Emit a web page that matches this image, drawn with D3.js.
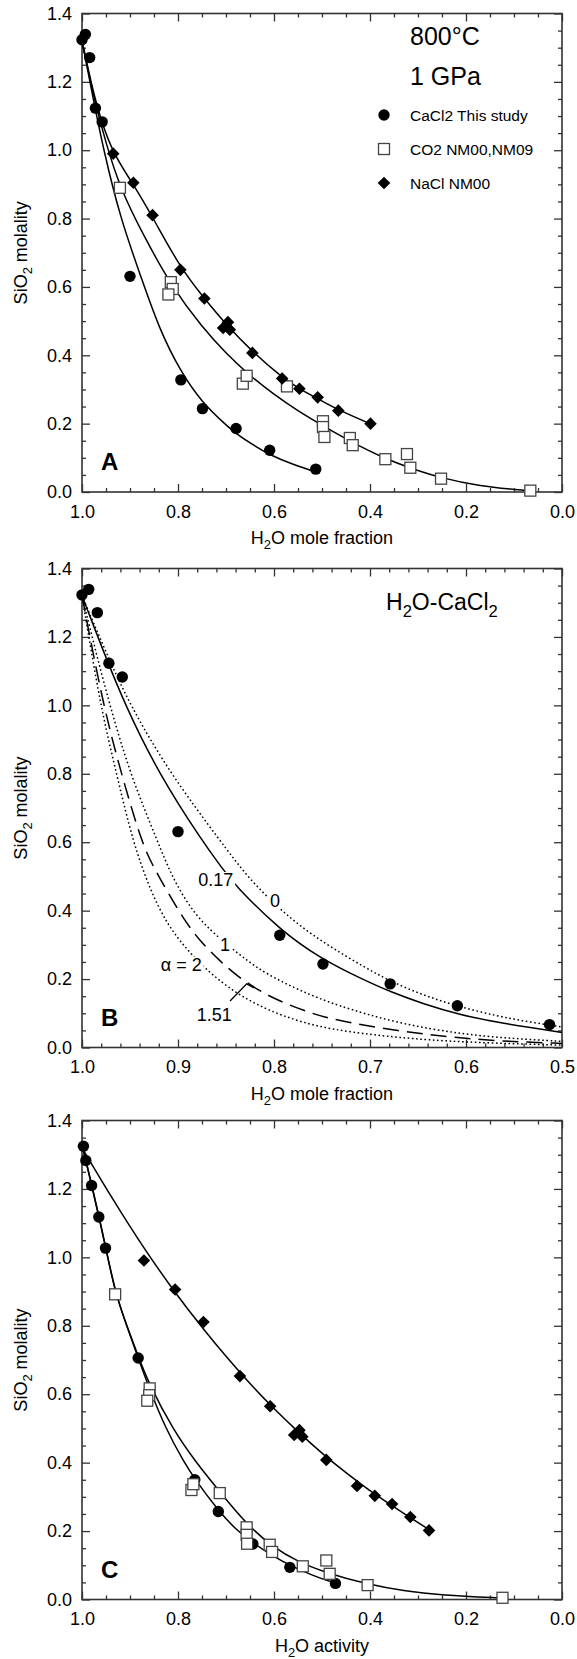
<!DOCTYPE html>
<html>
<head>
<meta charset="utf-8">
<script src="https://cdn.jsdelivr.net/npm/d3@7/dist/d3.min.js"></script>
<style>
  html, body { margin: 0; padding: 0; background: #fff; }
  svg { display: block; }
</style>
</head>
<body>
<svg id="chart" width="577" height="1659" xmlns="http://www.w3.org/2000/svg"></svg>
<script>
// ================= DATA =================
// CaCl2, this study : H2O mole fraction vs SiO2 molality (panels A, B)
const cacl2X = [1.000, 0.993, 0.984, 0.972, 0.958, 0.900, 0.794, 0.749, 0.679, 0.609, 0.513];
const cacl2Y = [1.323, 1.339, 1.271, 1.123, 1.083, 0.631, 0.328, 0.244, 0.186, 0.122, 0.067];
// CO2, NM00 / NM09 (panel A)
const co2X = [0.921, 0.815, 0.811, 0.820, 0.665, 0.657, 0.573, 0.498, 0.498, 0.495, 0.442, 0.436, 0.368, 0.323, 0.316, 0.252, 0.066];
const co2Y = [0.890, 0.614, 0.594, 0.578, 0.317, 0.340, 0.309, 0.207, 0.190, 0.161, 0.158, 0.137, 0.096, 0.111, 0.071, 0.039, 0.004];
// NaCl, NM00 (panel A)
const naclX = [0.935, 0.893, 0.853, 0.795, 0.745, 0.696, 0.706, 0.692, 0.645, 0.583, 0.547, 0.509, 0.466, 0.399];
const naclY = [0.990, 0.905, 0.810, 0.650, 0.566, 0.497, 0.480, 0.475, 0.407, 0.332, 0.302, 0.277, 0.238, 0.200];
// Panel C : H2O activity vs SiO2 molality
const cacl2ActX = [0.997, 0.992, 0.980, 0.965, 0.951, 0.883, 0.765, 0.716, 0.644, 0.567, 0.472];
const cacl2ActY = [1.325, 1.283, 1.210, 1.118, 1.027, 0.706, 0.350, 0.257, 0.162, 0.094, 0.047];
const co2ActX = [0.931, 0.859, 0.860, 0.864, 0.772, 0.768, 0.713, 0.657, 0.657, 0.656, 0.609, 0.604, 0.540, 0.491, 0.484, 0.405, 0.124];
const co2ActY = [0.892, 0.617, 0.597, 0.581, 0.320, 0.337, 0.311, 0.211, 0.189, 0.163, 0.160, 0.139, 0.097, 0.114, 0.075, 0.042, 0.005];
const naclActX = [0.871, 0.806, 0.747, 0.671, 0.608, 0.547, 0.558, 0.541, 0.491, 0.427, 0.390, 0.354, 0.316, 0.277];
const naclActY = [0.991, 0.906, 0.811, 0.653, 0.565, 0.495, 0.481, 0.476, 0.408, 0.332, 0.303, 0.279, 0.241, 0.202];

// Fitted / model curves ([x, SiO2 molality])
const fitCaCl2A = [[1.0,1.32],[0.978,1.16],[0.955,1.0],[0.92,0.8],[0.876,0.625],[0.84,0.48],[0.794,0.35],[0.75,0.262],[0.7,0.196],[0.68,0.172],[0.644,0.138],[0.608,0.108],[0.56,0.08],[0.512,0.058]];
const fitCO2A = [[1.0,1.32],[0.975,1.15],[0.95,1.02],[0.921,0.89],[0.87,0.745],[0.81,0.594],[0.75,0.483],[0.7,0.405],[0.65,0.34],[0.6,0.285],[0.55,0.237],[0.5,0.195],[0.44,0.147],[0.368,0.097],[0.316,0.07],[0.252,0.041],[0.176,0.018],[0.066,0.003]];
const fitNaClA = [[1.0,1.32],[0.98,1.19],[0.96,1.085],[0.935,0.99],[0.893,0.9],[0.853,0.805],[0.795,0.655],[0.745,0.566],[0.7,0.49],[0.645,0.41],[0.583,0.335],[0.547,0.302],[0.509,0.273],[0.466,0.24],[0.4,0.2]];
// Panel B model curves, alpha = 0, 0.17, 1, 1.51, 2
const curveA0 = [[1.0,1.32],[0.975,1.155],[0.95,1.0],[0.908,0.8],[0.855,0.6],[0.828,0.5],[0.8,0.42],[0.773,0.355],[0.742,0.295],[0.707,0.237],[0.68,0.195],[0.644,0.152],[0.608,0.12],[0.568,0.092],[0.535,0.075],[0.5,0.06]];
const curveA017 = [[1.0,1.32],[0.978,1.16],[0.955,1.0],[0.92,0.8],[0.874,0.6],[0.854,0.524],[0.841,0.475],[0.794,0.344],[0.752,0.261],[0.707,0.198],[0.679,0.163],[0.644,0.127],[0.608,0.097],[0.568,0.073],[0.5,0.044]];
const curveA1 = [[1.0,1.32],[0.985,1.15],[0.971,1.0],[0.95,0.8],[0.921,0.6],[0.905,0.49],[0.881,0.38],[0.851,0.305],[0.828,0.254],[0.808,0.215],[0.773,0.166],[0.736,0.124],[0.672,0.071],[0.603,0.038],[0.55,0.026],[0.5,0.018]];
const curveA151 = [[1.0,1.32],[0.978,1.0],[0.959,0.8],[0.938,0.6],[0.926,0.53],[0.91,0.45],[0.894,0.375],[0.877,0.31],[0.856,0.252],[0.839,0.21],[0.815,0.165],[0.794,0.135],[0.766,0.105],[0.742,0.083],[0.672,0.048],[0.603,0.026],[0.55,0.017],[0.5,0.012]];
const curveA2 = [[1.0,1.32],[0.981,1.0],[0.964,0.8],[0.947,0.6],[0.929,0.461],[0.912,0.363],[0.891,0.286],[0.867,0.218],[0.842,0.164],[0.818,0.125],[0.79,0.091],[0.756,0.062],[0.72,0.045],[0.672,0.029],[0.603,0.015],[0.5,0.007]];
// Panel C fits
const fitCaCl2C = [[1.0,1.33],[0.992,1.283],[0.98,1.21],[0.965,1.12],[0.951,1.03],[0.931,0.9],[0.907,0.8],[0.883,0.706],[0.862,0.625],[0.826,0.5],[0.787,0.4],[0.765,0.352],[0.716,0.26],[0.68,0.205],[0.644,0.165],[0.6,0.125],[0.567,0.1],[0.52,0.07],[0.472,0.048]];
const fitCO2C = [[1.0,1.33],[0.98,1.215],[0.951,1.035],[0.931,0.895],[0.907,0.802],[0.883,0.712],[0.862,0.635],[0.81,0.495],[0.761,0.398],[0.713,0.315],[0.657,0.22],[0.604,0.155],[0.55,0.11],[0.491,0.078],[0.405,0.044],[0.33,0.025],[0.252,0.013],[0.124,0.004]];
const fitNaClC = [[1.0,1.32],[0.935,1.167],[0.872,1.028],[0.806,0.896],[0.747,0.79],[0.7,0.71],[0.65,0.63],[0.6,0.557],[0.55,0.49],[0.5,0.427],[0.45,0.37],[0.4,0.317],[0.35,0.27],[0.277,0.204]];

// Tick values / labels
const xTicksFull = [1.0, 0.8, 0.6, 0.4, 0.2, 0.0];
const xTicksB = [1.0, 0.9, 0.8, 0.7, 0.6, 0.5];
const yTicks = [0, 0.2, 0.4, 0.6, 0.8, 1.0, 1.2, 1.4];
const legendLabels = ["CaCl2 This study", "CO2 NM00,NM09", "NaCl NM00"];
const alphaLabels = ["0", "0.17", "1", "\u03B1 = 2", "1.51"];
const alphaLabelPos = [[0.799, 0.4115], [0.8425, 0.472], [0.851, 0.282], [0.8753, 0.2245], [0.8805, 0.078]];
const leader151 = [[0.8458, 0.136], [0.8284, 0.186], [0.8208, 0.174]];

// ================= DRAWING =================
const FONT = '"Liberation Sans", Arial, Helvetica, sans-serif';
const L = 82, R = 562;
const AX = '#333';
const svg = d3.select('#chart').attr('font-family', FONT);

function richText(t, parts, size) {
  let shift = 0;
  parts.forEach(([s, sub]) => {
    const ts = t.append('tspan').text(s);
    if (sub) { ts.attr('font-size', size * 0.72).attr('dy', size * 0.3 - shift); shift = size * 0.3; }
    else { if (shift) ts.attr('dy', -shift); shift = 0; }
  });
}

function minorTicks(lo, hi, step, every) {
  const n = Math.round((hi - lo) / step);
  const out = [];
  for (let i = 0; i <= n; i++) if (i % every !== 0) out.push(+(lo + i * step).toFixed(4));
  return out;
}

function setupPanel(o) {
  const g = svg.append('g');
  const x = d3.scaleLinear().domain(o.xDomain).range([L, R]);
  const y = d3.scaleLinear().domain([0, 1.4]).range([o.bottom, o.top]);
  const yMinor = minorTicks(0, 1.4, 0.05, 4);
  const fmt = d3.format('.1f');
  const axes = [
    [d3.axisBottom(x).tickValues(o.xMajor).tickSize(-8).tickPadding(13).tickFormat(fmt), `translate(0,${o.bottom})`],
    [d3.axisBottom(x).tickValues(o.xMinor).tickSize(-4).tickFormat(''), `translate(0,${o.bottom})`],
    [d3.axisTop(x).tickValues(o.xMajor).tickSize(-8).tickFormat(''), `translate(0,${o.top})`],
    [d3.axisTop(x).tickValues(o.xMinor).tickSize(-4).tickFormat(''), `translate(0,${o.top})`],
    [d3.axisLeft(y).tickValues(yTicks).tickSize(-8).tickPadding(10).tickFormat(fmt), `translate(${L},0)`],
    [d3.axisLeft(y).tickValues(yMinor).tickSize(-4).tickFormat(''), `translate(${L},0)`],
    [d3.axisRight(y).tickValues(yTicks).tickSize(-8).tickFormat(''), `translate(${R},0)`],
    [d3.axisRight(y).tickValues(yMinor).tickSize(-4).tickFormat(''), `translate(${R},0)`]
  ];
  axes.forEach(([ax, tr]) => {
    const a = g.append('g').attr('transform', tr).call(ax);
    a.select('.domain').remove();
    a.selectAll('line').attr('stroke', AX).attr('stroke-width', 1.3);
    a.selectAll('text').attr('font-family', FONT).attr('font-size', 18).attr('fill', '#000');
  });
  g.append('rect').attr('x', L).attr('y', o.top).attr('width', R - L).attr('height', o.bottom - o.top)
    .attr('fill', 'none').attr('stroke', AX).attr('stroke-width', 1.6);
  // x title
  const xt = g.append('text').attr('x', (L + R) / 2).attr('y', o.bottom + 52)
    .attr('text-anchor', 'middle').attr('font-size', 18);
  richText(xt, o.xTitle, 18);
  // y title
  const yt = g.append('text').attr('transform', `translate(27,${(o.top + o.bottom) / 2}) rotate(-90)`)
    .attr('text-anchor', 'middle').attr('font-size', 18);
  richText(yt, [['SiO', false], ['2', true], [' molality', false]], 18);
  // panel letter
  g.append('text').attr('x', 101).attr('y', o.bottom - 22).attr('font-size', 24)
    .attr('font-weight', 'bold').text(o.letter);
  const plot = g.append('g');
  return { g, plot, x, y };
}

function drawLine(p, pts, dash, width) {
  const line = d3.line().x(d => p.x(d[0])).y(d => p.y(d[1])).curve(d3.curveBasis);
  p.plot.append('path').attr('d', line(pts)).attr('fill', 'none').attr('stroke', '#000')
    .attr('stroke-width', width || 1.5).attr('stroke-dasharray', dash || null);
}
function diamondPath(s) { return `M0,${-s}L${s},0L0,${s}L${-s},0Z`; }
function drawCircles(p, xs, ys) {
  p.plot.append('g').selectAll('circle').data(d3.zip(xs, ys)).join('circle')
    .attr('cx', d => p.x(d[0])).attr('cy', d => p.y(d[1])).attr('r', 5.7).attr('fill', '#000');
}
function drawSquares(p, xs, ys) {
  p.plot.append('g').selectAll('rect').data(d3.zip(xs, ys)).join('rect')
    .attr('x', d => p.x(d[0]) - 5.5).attr('y', d => p.y(d[1]) - 5.5).attr('width', 11).attr('height', 11)
    .attr('fill', '#fff').attr('stroke', '#444').attr('stroke-width', 1.3);
}
function drawDiamonds(p, xs, ys) {
  p.plot.append('g').selectAll('path').data(d3.zip(xs, ys)).join('path')
    .attr('transform', d => `translate(${p.x(d[0])},${p.y(d[1])})`).attr('d', diamondPath(6.3)).attr('fill', '#000');
}

const H2Ofrac = [['H', false], ['2', true], ['O mole fraction', false]];

// ---------- Panel A ----------
const pA = setupPanel({ top: 13.5, bottom: 492, xDomain: [1, 0], xMajor: xTicksFull,
  xMinor: minorTicks(0, 1, 0.05, 4), xTitle: H2Ofrac, letter: 'A' });
drawLine(pA, fitCaCl2A); drawLine(pA, fitCO2A); drawLine(pA, fitNaClA);
drawCircles(pA, cacl2X, cacl2Y);
drawSquares(pA, co2X, co2Y);
drawDiamonds(pA, naclX, naclY);
pA.g.append('text').attr('x', 410).attr('y', 45).attr('font-size', 25).text('800\u00B0C');
pA.g.append('text').attr('x', 410).attr('y', 85).attr('font-size', 25).text('1 GPa');
const legY = [115, 149, 183];
pA.g.append('circle').attr('cx', 384).attr('cy', legY[0]).attr('r', 5.7).attr('fill', '#000');
pA.g.append('rect').attr('x', 384 - 5.5).attr('y', legY[1] - 5.5).attr('width', 11).attr('height', 11)
  .attr('fill', '#fff').attr('stroke', '#444').attr('stroke-width', 1.3);
pA.g.append('path').attr('transform', `translate(384,${legY[2]})`).attr('d', diamondPath(6.3)).attr('fill', '#000');
legendLabels.forEach((t, i) => {
  pA.g.append('text').attr('x', 410).attr('y', legY[i] + 5.5).attr('font-size', 15.5).text(t);
});

// ---------- Panel B ----------
const pB = setupPanel({ top: 568.5, bottom: 1047.5, xDomain: [1, 0.5], xMajor: xTicksB,
  xMinor: minorTicks(0.5, 1, 0.02, 5), xTitle: H2Ofrac, letter: 'B' });
drawLine(pB, curveA0, '1.6,2.6', 1.5);
drawLine(pB, curveA017, null, 1.5);
drawLine(pB, curveA1, '1.6,2.6', 1.5);
drawLine(pB, curveA151, '16,8', 1.5);
drawLine(pB, curveA2, '1.6,2.6', 1.5);
// leader line for 1.51
pB.plot.append('path').attr('d', d3.line().x(d => pB.x(d[0])).y(d => pB.y(d[1]))(leader151))
  .attr('fill', 'none').attr('stroke', '#000').attr('stroke-width', 1.3);
// alpha labels with white knock-out
const anchors = ['middle', 'end', 'middle', 'end', 'start'];
alphaLabels.forEach((t, i) => {
  const gl = pB.plot.append('g');
  const tx = gl.append('text').attr('x', pB.x(alphaLabelPos[i][0])).attr('y', pB.y(alphaLabelPos[i][1]))
    .attr('text-anchor', anchors[i]).attr('font-size', 18).text(t);
  const bb = tx.node().getBBox();
  gl.insert('rect', 'text').attr('x', bb.x - 2).attr('y', bb.y + 2).attr('width', bb.width + 4)
    .attr('height', bb.height - 4).attr('fill', '#fff');
});
drawCircles(pB, cacl2X, cacl2Y);
const ht = pB.g.append('text').attr('x', 386).attr('y', 610).attr('font-size', 23);
richText(ht, [['H', false], ['2', true], ['O-CaCl', false], ['2', true]], 23);

// ---------- Panel C ----------
const pC = setupPanel({ top: 1120.5, bottom: 1599.5, xDomain: [1, 0], xMajor: xTicksFull,
  xMinor: minorTicks(0, 1, 0.05, 4), xTitle: [['H', false], ['2', true], ['O activity', false]], letter: 'C' });
drawLine(pC, fitCaCl2C); drawLine(pC, fitCO2C); drawLine(pC, fitNaClC);
drawCircles(pC, cacl2ActX, cacl2ActY);
drawSquares(pC, co2ActX, co2ActY);
drawDiamonds(pC, naclActX, naclActY);
</script>
</body>
</html>
